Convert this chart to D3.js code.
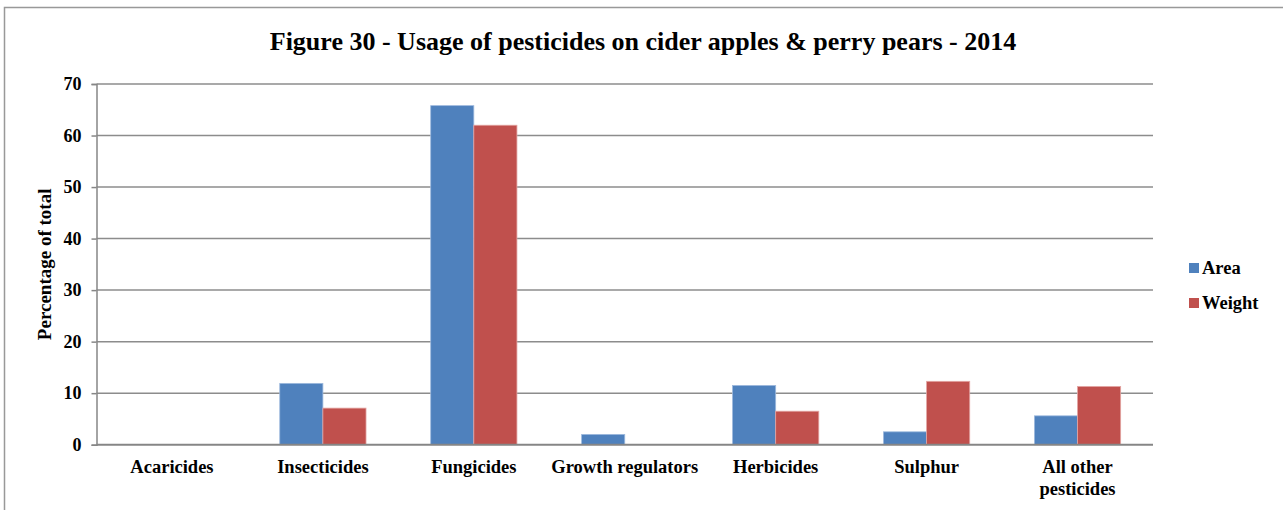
<!DOCTYPE html>
<html>
<head>
<meta charset="utf-8">
<script src="https://cdn.jsdelivr.net/npm/d3@7"></script>
<style>
  html, body { margin: 0; padding: 0; background: #fff; }
  svg { display: block; }
  text { font-family: "Liberation Serif", "Times New Roman", serif; font-weight: bold; fill: #000; }
</style>
</head>
<body>
<svg id="chart" width="1283" height="510"></svg>
<script>
// Pesticide usage shares, cider apples & perry pears, 2014
const categories = ["Acaricides", "Insecticides", "Fungicides", "Growth regulators", "Herbicides", "Sulphur", "All other pesticides"];
const seriesNames = ["Area", "Weight"];
const areaValues = [0, 11.9, 65.8, 2.0, 11.5, 2.5, 5.6];
const weightValues = [0, 7.1, 62.0, 0, 6.5, 12.3, 11.3];
const yTicks = [0, 10, 20, 30, 40, 50, 60, 70];
const seriesColors = ["#4F81BD", "#C0504D"];
const seriesStrokes = ["#9DB9DD", "#E3A5A3"];

const svg = d3.select("#chart");

// outer frame
svg.append("rect")
  .attr("x", 4.5).attr("y", 7.5)
  .attr("width", 1290).attr("height", 520)
  .attr("fill", "none").attr("stroke", "#999").attr("stroke-width", 1.5);

const plot = { left: 96.5, right: 1153, top: 84, bottom: 444.7 };

const x = d3.scaleBand().domain(categories).range([plot.left, plot.right]).paddingInner(0).paddingOuter(0);
const y = d3.scaleLinear().domain([0, 70]).range([plot.bottom, plot.top]);
const x1 = d3.scaleBand().domain(seriesNames).range([0, x.bandwidth()]).paddingInner(0).paddingOuter(0.75);

// title
svg.append("text")
  .attr("x", 643).attr("y", 50)
  .attr("text-anchor", "middle")
  .style("font-size", "26px")
  .text("Figure 30 - Usage of pesticides on cider apples & perry pears - 2014");

// horizontal gridlines
svg.append("g")
  .selectAll("line")
  .data(yTicks.filter(t => t > 0))
  .join("line")
  .attr("x1", plot.left).attr("x2", plot.right)
  .attr("y1", d => y(d)).attr("y2", d => y(d))
  .attr("stroke", "#8c8c8c").attr("stroke-width", 1.5);

// y axis
const yAxis = svg.append("g")
  .attr("transform", `translate(${plot.left},0)`)
  .call(d3.axisLeft(y).tickValues(yTicks).tickSize(5).tickPadding(10).tickFormat(d3.format("d")));
yAxis.select(".domain").attr("stroke", "#868686").attr("stroke-width", 1.5);
yAxis.selectAll(".tick line").attr("stroke", "#868686").attr("stroke-width", 1.5);
yAxis.selectAll(".tick text")
  .style("font-size", "18px")
  .style("font-family", "'Liberation Serif', serif")
  .style("font-weight", "bold")
  .attr("fill", "#000");

// y axis title
svg.append("text")
  .attr("transform", `translate(51,${(plot.top + plot.bottom) / 2}) rotate(-90)`)
  .attr("text-anchor", "middle")
  .style("font-size", "19px")
  .text("Percentage of total");

// bars
const rows = categories.map((c, i) => ({ category: c, values: [areaValues[i], weightValues[i]] }));
const groups = svg.append("g")
  .selectAll("g")
  .data(rows)
  .join("g")
  .attr("transform", d => `translate(${x(d.category)},0)`);

groups.selectAll("rect")
  .data(d => d.values.map((v, k) => ({ key: seriesNames[k], value: v, k })))
  .join("rect")
  .filter(d => d.value > 0)
  .attr("x", d => x1(d.key))
  .attr("width", x1.bandwidth())
  .attr("y", d => y(d.value))
  .attr("height", d => y(0) - y(d.value))
  .attr("fill", d => seriesColors[d.k])
  .attr("stroke", d => seriesStrokes[d.k])
  .attr("stroke-width", 0.8);

// x axis baseline
svg.append("line")
  .attr("x1", plot.left).attr("x2", plot.right)
  .attr("y1", y(0)).attr("y2", y(0))
  .attr("stroke", "#868686").attr("stroke-width", 2);

// category labels
const wrapped = { "All other pesticides": ["All other", "pesticides"] };
svg.append("g")
  .selectAll("text")
  .data(categories)
  .join("text")
  .attr("x", d => x(d) + x.bandwidth() / 2)
  .attr("y", 473)
  .attr("text-anchor", "middle")
  .style("font-size", "18.5px")
  .each(function(d) {
    const lines = wrapped[d] || [d];
    d3.select(this).selectAll("tspan")
      .data(lines)
      .join("tspan")
      .attr("x", x(d) + x.bandwidth() / 2)
      .attr("dy", (l, i) => i === 0 ? 0 : 22)
      .text(l => l);
  });

// legend
const legend = svg.append("g")
  .selectAll("g")
  .data(seriesNames)
  .join("g")
  .attr("transform", (d, i) => `translate(1189,${263 + i * 35})`);
legend.append("rect")
  .attr("width", 10).attr("height", 10)
  .attr("fill", (d, i) => seriesColors[i]);
legend.append("text")
  .attr("x", 13).attr("y", 11)
  .style("font-size", "18.5px")
  .text(d => d);
</script>
</body>
</html>
